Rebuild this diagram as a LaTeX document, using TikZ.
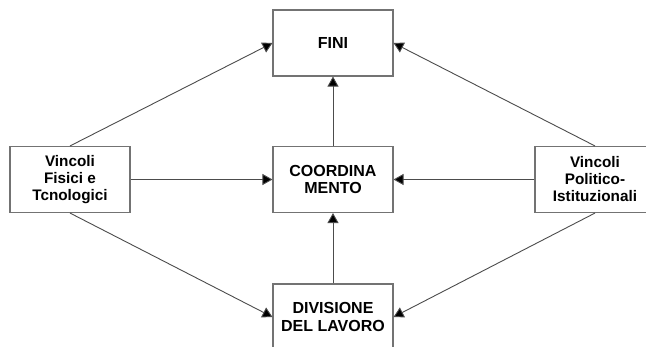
\documentclass[tikz,border=0pt]{standalone}
\usepackage{fontspec}
\setmainfont{Liberation Sans}
\usetikzlibrary{arrows.meta}
\begin{document}
\begin{tikzpicture}[x=1pt,y=1pt,
  box/.style={draw=black!55, line width=1.1pt, minimum width=120pt, minimum height=66pt,
    inner sep=0pt, align=center, font=\fontsize{16}{17.5}\selectfont\bfseries},
  sidebox/.style={box, font=\fontsize{15.3}{17}\selectfont\bfseries},
  conn/.style={draw=black!70, line width=0.9pt, -{Triangle[length=10pt,width=11pt,fill=black]}}]
\useasboundingbox (0,0) rectangle (646,346);
\clip (0,0) rectangle (646,346);
\fill[white] (0,0) rectangle (646,346);
\node[box] (fini) at (333,303) {FINI};
\node[box] (coord) at (333,166.5) {COORDINA\\MENTO};
\node[box] (div) at (333,29) {DIVISIONE\\DEL LAVORO};
\node[sidebox] (fis) at (70,166.5) {Vincoli\\Fisici e\\Tcnologici};
\node[sidebox] (pol) at (595,166.5) {Vincoli\\Politico-\\Istituzionali};
\draw[conn] (fis.north) -- (fini.west);
\draw[conn] (fis.east) -- (coord.west);
\draw[conn] (fis.south) -- (div.west);
\draw[conn] (pol.north) -- (fini.east);
\draw[conn] (pol.west) -- (coord.east);
\draw[conn] (pol.south) -- (div.east);
\draw[conn] (coord.north) -- (fini.south);
\draw[conn] (div.north) -- (coord.south);
\end{tikzpicture}
\end{document}
